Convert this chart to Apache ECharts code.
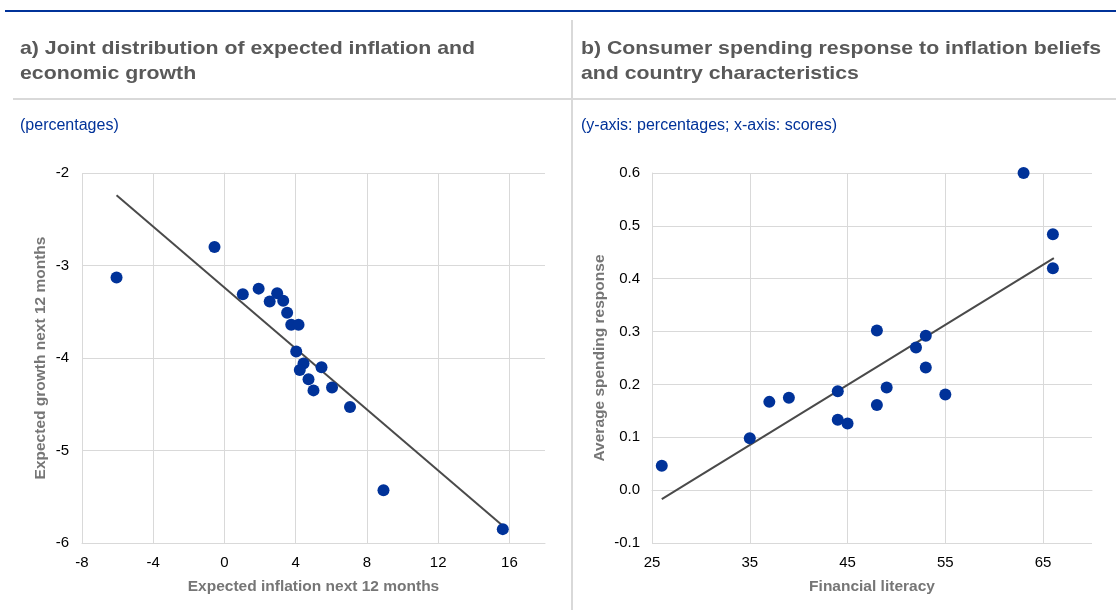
<!DOCTYPE html>
<html>
<head>
<meta charset="utf-8">
<script src="https://cdn.jsdelivr.net/npm/echarts@6/dist/echarts.min.js"></script>
<style>
  html, body { margin: 0; padding: 0; background: #fff; }
  #chart { width: 1116px; height: 610px; }
</style>
</head>
<body>
<div id="chart"></div>
<script>
// panel a) expected inflation vs expected growth (percentages)
const inflA = [-6.06, -0.56, 1.03, 1.92, 2.54, 2.96, 3.30, 3.52, 3.75, 4.16, 4.03, 4.44, 4.23, 5.45, 4.72, 5.00, 6.04, 7.05, 8.93, 15.63]
const growthA = [-3.13, -2.80, -3.31, -3.25, -3.39, -3.30, -3.38, -3.51, -3.64, -3.64, -3.93, -4.06, -4.13, -4.10, -4.23, -4.35, -4.32, -4.53, -5.43, -5.85]
const trendAX = [-6.06, 15.66]
const trendAY = [-2.24, -5.82]

// panel b) financial literacy vs average spending response
const literacyB = [26, 35, 37, 39, 44, 44, 45, 48, 48, 49, 52, 53, 53, 55, 63, 66, 66]
const responseB = [0.046, 0.098, 0.167, 0.175, 0.187, 0.133, 0.126, 0.302, 0.161, 0.194, 0.270, 0.292, 0.232, 0.181, 0.600, 0.484, 0.420]
const trendBX = [26, 66.1]
const trendBY = [-0.017, 0.439]

const FONT = 'Arial, "Liberation Sans", sans-serif'
const BLUE = '#003299'
const GRID = '#d9d9d9'

const chart = echarts.init(document.getElementById('chart'))

const pairs = (xs, ys) => xs.map((x, i) => [x, ys[i]])

const axisCommon = {
  axisTick: { show: false },
  axisLine: { show: true, lineStyle: { color: GRID, width: 1 } },
  splitLine: { show: true, showMaxLine: false, lineStyle: { color: GRID, width: 1 } },
  axisLabel: { color: '#000', fontSize: 15, fontFamily: FONT, showMaxLabel: false },
  nameLocation: 'middle',
  nameTextStyle: { color: '#767676', fontSize: 15.5, fontWeight: 'bold', fontFamily: FONT }
}

// panel headings, slightly widened to match the source typeface
const heading = (x, text) => ({
  type: 'text', x: x, y: 36, scaleX: 1.15,
  style: { text: text, fill: '#595959', font: 'bold 18.5px ' + FONT, lineHeight: 25 }
})

const option = {
  animation: false,
  graphic: [
    { type: 'rect', shape: { x: 5, y: 10, width: 1111, height: 2 }, style: { fill: BLUE } },
    { type: 'rect', shape: { x: 13, y: 98, width: 1103, height: 2 }, style: { fill: GRID } },
    { type: 'rect', shape: { x: 571, y: 20, width: 2, height: 590 }, style: { fill: GRID } },
    heading(20, 'a) Joint distribution of expected inflation and\neconomic growth'),
    heading(581, 'b) Consumer spending response to inflation beliefs\nand country characteristics')
  ],
  title: [
    {
      text: '(percentages)',
      left: 20, top: 118, padding: 0,
      textStyle: { fontSize: 16, fontWeight: 'normal', color: BLUE, fontFamily: FONT }
    },
    {
      text: '(y-axis: percentages; x-axis: scores)',
      left: 581, top: 118, padding: 0,
      textStyle: { fontSize: 16, fontWeight: 'normal', color: BLUE, fontFamily: FONT }
    }
  ],
  grid: [
    { left: 82, top: 173, width: 463, height: 370 },
    { left: 652, top: 173, width: 440, height: 370 }
  ],
  xAxis: [
    Object.assign({}, axisCommon, {
      gridIndex: 0, type: 'value', min: -8, max: 18, interval: 4,
      name: 'Expected inflation next 12 months', nameGap: 36,
      axisLabel: Object.assign({}, axisCommon.axisLabel, { margin: 12 })
    }),
    Object.assign({}, axisCommon, {
      gridIndex: 1, type: 'value', min: 25, max: 70, interval: 10,
      name: 'Financial literacy', nameGap: 36,
      axisLabel: Object.assign({}, axisCommon.axisLabel, { margin: 12 })
    })
  ],
  yAxis: [
    Object.assign({}, axisCommon, {
      gridIndex: 0, type: 'value', min: -6, max: -2, interval: 1,
      name: 'Expected growth next 12 months', nameGap: 33,
      splitLine: { show: true, lineStyle: { color: GRID, width: 1 } },
      axisLabel: Object.assign({}, axisCommon.axisLabel, { margin: 13, showMaxLabel: true })
    }),
    Object.assign({}, axisCommon, {
      gridIndex: 1, type: 'value', min: -0.1, max: 0.6, interval: 0.1,
      name: 'Average spending response', nameGap: 44,
      splitLine: { show: true, lineStyle: { color: GRID, width: 1 } },
      axisLabel: Object.assign({}, axisCommon.axisLabel, {
        margin: 12, showMaxLabel: true,
        formatter: v => v.toFixed(1)
      })
    })
  ],
  series: [
    {
      type: 'line', xAxisIndex: 0, yAxisIndex: 0,
      data: pairs(trendAX, trendAY), symbol: 'none',
      lineStyle: { color: '#4a4a4a', width: 2 }, z: 2
    },
    {
      type: 'scatter', xAxisIndex: 0, yAxisIndex: 0,
      data: pairs(inflA, growthA), symbolSize: 12,
      itemStyle: { color: BLUE, opacity: 1 }, z: 3
    },
    {
      type: 'line', xAxisIndex: 1, yAxisIndex: 1,
      data: pairs(trendBX, trendBY), symbol: 'none',
      lineStyle: { color: '#4a4a4a', width: 2 }, z: 2
    },
    {
      type: 'scatter', xAxisIndex: 1, yAxisIndex: 1,
      data: pairs(literacyB, responseB), symbolSize: 12,
      itemStyle: { color: BLUE, opacity: 1 }, z: 3
    }
  ]
}

chart.setOption(option)
</script>
</body>
</html>
